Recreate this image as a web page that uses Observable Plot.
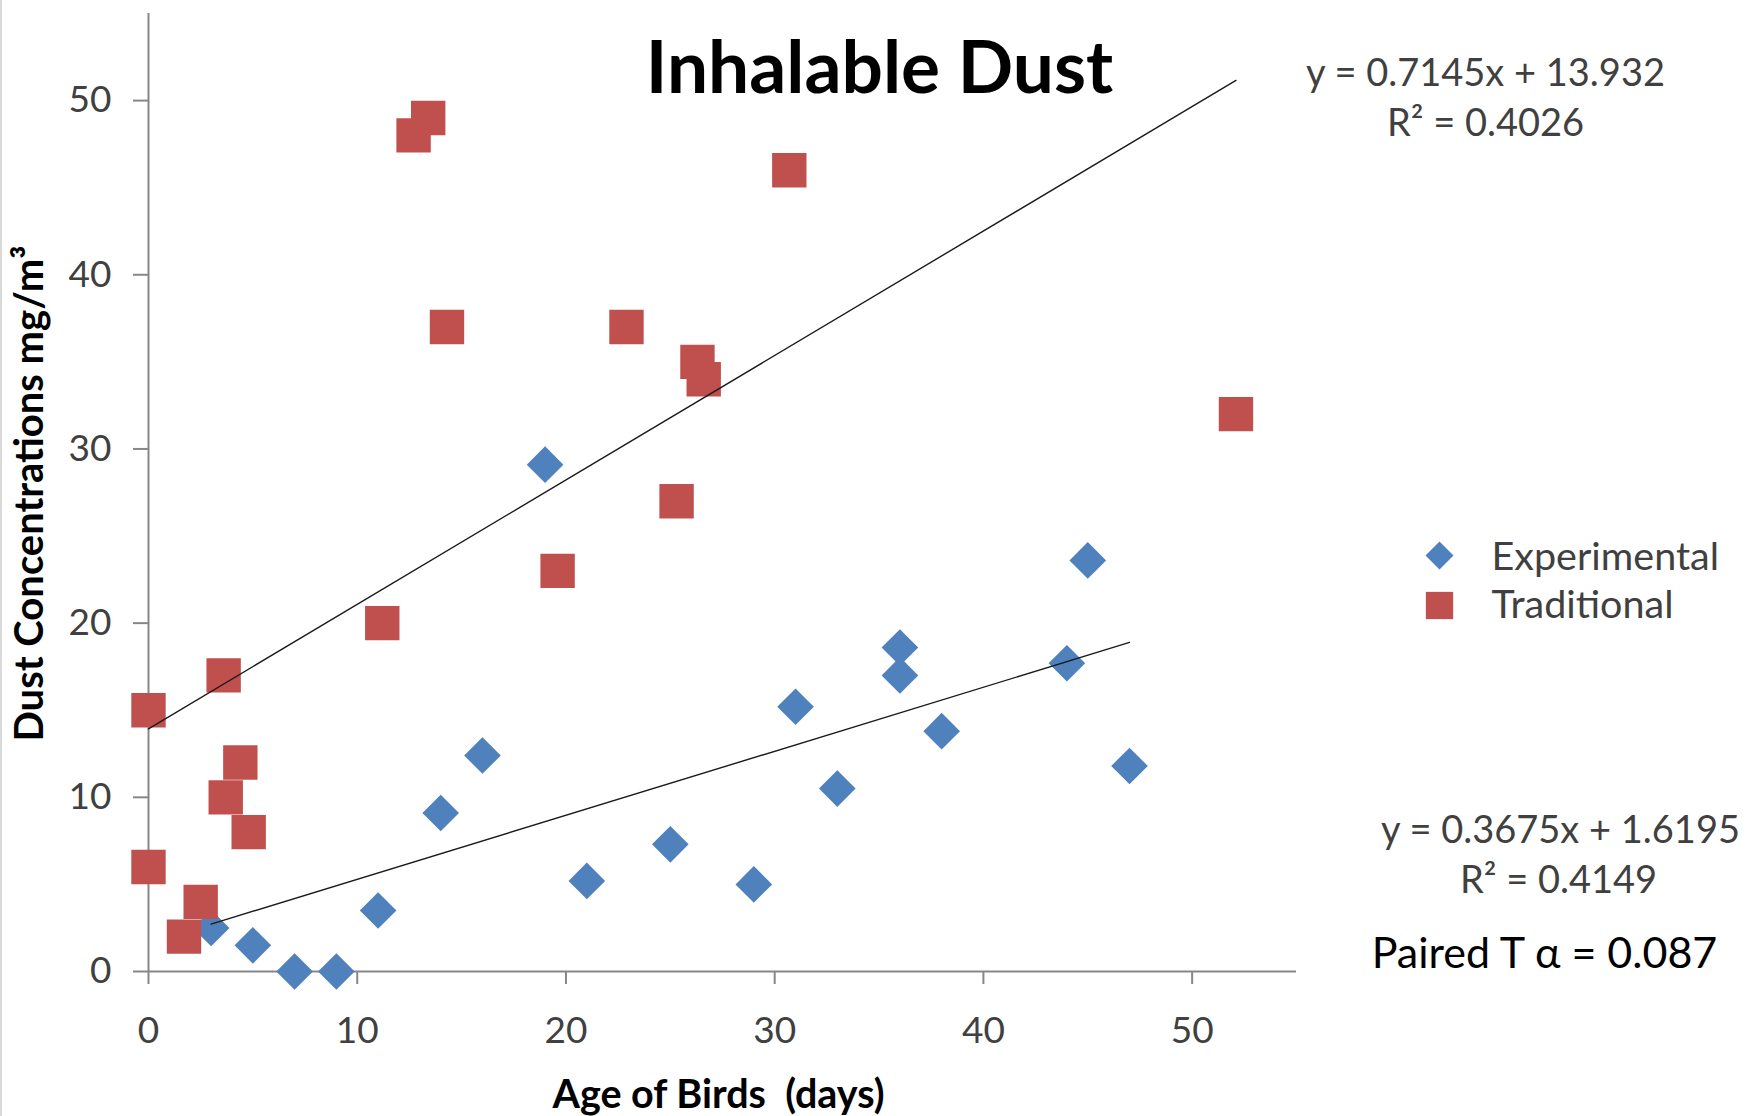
<!DOCTYPE html>
<html>
<head>
<meta charset="utf-8">
<script src="https://cdn.jsdelivr.net/npm/d3@7"></script>
<script src="https://cdn.jsdelivr.net/npm/@observablehq/plot@0.6"></script>
<style>
  html, body { margin: 0; padding: 0; background: #fff; }
  #wrap { position: relative; width: 1748px; height: 1116px; }
  #edge { position: absolute; left: 0; top: 0; width: 2px; height: 1116px; background: #d9d9d9; }
  svg { font-family: Lato, "Open Sans", sans-serif; }
</style>
</head>
<body>
<div id="wrap"><div id="edge"></div></div>
<script>
// ---- data ----
const seriesNames = ["Experimental", "Traditional"];
const expAge  = [3, 5, 7, 9, 11, 14, 16, 19, 21, 25, 29, 31, 33, 36, 36, 38, 44, 45, 47];
const expDust = [2.5, 1.5, 0, 0, 3.5, 9.1, 12.4, 29.1, 5.2, 7.3, 5.0, 15.2, 10.5, 18.6, 17.0, 13.8, 17.7, 23.6, 11.8];
const tradAge  = [0, 0, 1.7, 2.5, 3.6, 3.7, 4.4, 4.8, 11.2, 12.7, 13.4, 14.3, 19.6, 22.9, 25.3, 26.3, 26.6, 30.7, 52.1];
const tradDust = [15, 6, 2, 4, 17, 10, 12, 8, 20, 48, 49, 37, 23, 37, 27, 35, 34, 46, 32];
// trend line coefficients [slope, intercept] as printed on the chart
const expFit  = [0.3675, 1.6195];
const tradFit = [0.7145, 13.932];
const xTicks = [0, 10, 20, 30, 40, 50];
const yTicks = [0, 10, 20, 30, 40, 50];
const titleText = "Inhalable Dust";
const xLabel = "Age of Birds  (days)";
const yLabel = "Dust Concentrations mg/m³";
const tradEq = ["y = 0.7145x + 13.932", "R² = 0.4026"];
const expEq  = ["y = 0.3675x + 1.6195", "R² = 0.4149"];
const pairedText = "Paired T α = 0.087";

// ---- build tables ----
const expData  = expAge.map((a, i) => ({age: a, dust: expDust[i]}));
const tradData = tradAge.map((a, i) => ({age: a, dust: tradDust[i]}));
function fitLine(xs, [m, b]) {
  const lo = d3.min(xs), hi = d3.max(xs);
  return [lo, hi].map(x => ({age: x, dust: m * x + b}));
}
const expLine = fitLine(expAge, expFit);
const tradLine = fitLine(tradAge, tradFit);

const BLUE = "#4F81BD", RED = "#C0504D", AXIS = "#878787", TXT = "#404040";

const chart = Plot.plot({
  width: 1748,
  height: 1116,
  marginLeft: 148,
  marginRight: 452,
  marginTop: 13,
  marginBottom: 145,
  style: {fontFamily: "Lato, 'Open Sans', sans-serif", background: "#fff"},
  x: {domain: [0, 55]},
  y: {domain: [0, 55]},
  marks: [
    Plot.axisY({ticks: yTicks, tickSize: 15, tickPadding: 22, fontSize: 37, stroke: AXIS, strokeWidth: 2, fill: TXT, label: null}),
    Plot.axisX({ticks: xTicks, tickSize: 13, tickPadding: 32, fontSize: 37, stroke: AXIS, strokeWidth: 2, fill: TXT, label: null}),
    Plot.ruleX([0], {y1: 0, y2: 55, stroke: AXIS, strokeWidth: 2}),
    Plot.ruleY([0], {x1: 0, x2: 55, stroke: AXIS, strokeWidth: 2}),
    Plot.dot(expData, {x: "age", y: "dust", symbol: "diamond2", r: 16.5, fill: BLUE, stroke: "none"}),
    Plot.dot(tradData, {x: "age", y: "dust", symbol: "square", r: 19.4, fill: RED, stroke: "none"}),
    Plot.line(tradLine, {x: "age", y: "dust", stroke: "#1a1a1a", strokeWidth: 1.4}),
    Plot.line(expLine, {x: "age", y: "dust", stroke: "#1a1a1a", strokeWidth: 1.4}),
    // title
    Plot.text([titleText], {frameAnchor: "top", dx: 157, dy: 79, textAnchor: "middle", lineAnchor: "bottom", fontSize: 73, fontWeight: "bold", fill: "#000"}),
    // axis titles
    Plot.text([xLabel], {frameAnchor: "bottom", dx: -4, dy: 136, textAnchor: "middle", lineAnchor: "bottom", fontSize: 39.5, fontWeight: "bold", fill: "#000"}),
    Plot.text([yLabel], {frameAnchor: "left", dx: -118, dy: 1, rotate: -90, textAnchor: "middle", lineAnchor: "middle", fontSize: 40, fontWeight: "bold", fill: "#000"}),
    // legend
    Plot.dot([seriesNames[0]], {frameAnchor: "top-right", dx: 143, dy: 542, symbol: "diamond2", r: 12.6, fill: BLUE}),
    Plot.dot([seriesNames[1]], {frameAnchor: "top-right", dx: 143, dy: 592, symbol: "square", r: 15.4, fill: RED}),
    Plot.text([seriesNames[0]], {frameAnchor: "top-right", dx: 195, dy: 556, textAnchor: "start", lineAnchor: "bottom", fontSize: 39.5, fill: TXT}),
    Plot.text([seriesNames[1]], {frameAnchor: "top-right", dx: 195, dy: 604, textAnchor: "start", lineAnchor: "bottom", fontSize: 39.5, fill: TXT}),
    // trend line equations
    Plot.text([tradEq[0]], {frameAnchor: "top-right", dx: 189, dy: 72, textAnchor: "middle", lineAnchor: "bottom", fontSize: 38, fill: TXT}),
    Plot.text([tradEq[1]], {frameAnchor: "top-right", dx: 189, dy: 122, textAnchor: "middle", lineAnchor: "bottom", fontSize: 38, fill: TXT}),
    Plot.text([expEq[0]], {frameAnchor: "top-right", dx: 264, dy: 829, textAnchor: "middle", lineAnchor: "bottom", fontSize: 38, fill: TXT}),
    Plot.text([expEq[1]], {frameAnchor: "top-right", dx: 262, dy: 879, textAnchor: "middle", lineAnchor: "bottom", fontSize: 38, fill: TXT}),
    Plot.text([pairedText], {frameAnchor: "top-right", dx: 248, dy: 954, textAnchor: "middle", lineAnchor: "bottom", fontSize: 43, fill: "#000"})
  ]
});
document.getElementById("wrap").appendChild(chart);
</script>
</body>
</html>
